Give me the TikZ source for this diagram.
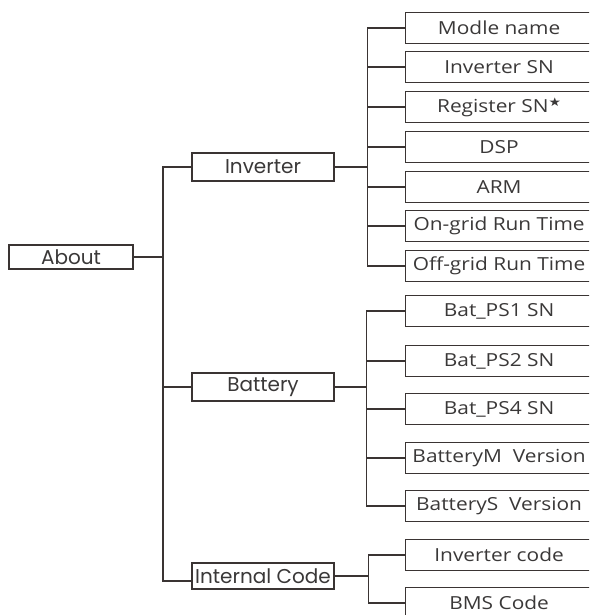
\documentclass[tikz,border=0pt]{standalone}
\usepackage{fontspec}
\setmainfont{Open Sans}
\newfontfamily\leftfont{Poppins}
\newfontfamily\symfont{DejaVu Sans}
\definecolor{linec}{HTML}{3A3433}
\definecolor{textc}{HTML}{3A3838}
\newcommand{\wtxt}[1]{\hspace*{-8pt}\scalebox{1.16}[1]{#1}}
\begin{document}
\begin{tikzpicture}[x=1pt,y=1pt,
  lbox/.style={draw=linec, line width=1.2pt, minimum height=#1, inner sep=0pt, text=textc,
    font=\leftfont\fontsize{20}{20}\selectfont},
  rbox/.style={draw=linec, line width=1.2pt, minimum width=195, minimum height=31, inner sep=0pt,
    text=textc, font=\fontsize{18}{18}\selectfont, anchor=west},
  conn/.style={draw=linec, line width=1.1pt}]
\useasboundingbox (0,0) rectangle (589,-615);
\clip (0,0) rectangle (589,-615);
% level 0
\node[lbox=24, minimum width=124] (about) at (71,-257) {About};
% level 1
\node[lbox=28, minimum width=142] (inv) at (263,-167) {Inverter};
\node[lbox=28, minimum width=142] (bat) at (263,-387) {Battery};
\node[lbox=26, minimum width=142] (ic) at (263,-576) {Internal Code};
% inverter children
\node[rbox] (m1) at (405,-28) {\wtxt{Modle name}};
\node[rbox] (m2) at (405,-67) {\wtxt{Inverter SN}};
\node[rbox] (m3) at (405,-107) {\wtxt{Register SN\raisebox{6pt}{\symfont\fontsize{12}{12}\selectfont ★}}};
\node[rbox] (m4) at (405,-147) {\wtxt{DSP}};
\node[rbox] (m5) at (405,-187) {\wtxt{ARM}};
\node[rbox] (m6) at (405,-226) {\wtxt{On-grid Run Time}};
\node[rbox] (m7) at (405,-266) {\wtxt{Off-grid Run Time}};
% battery children
\node[rbox] (b1) at (405,-311) {\wtxt{Bat\_PS1 SN}};
\node[rbox] (b2) at (405,-361) {\wtxt{Bat\_PS2 SN}};
\node[rbox] (b3) at (405,-409) {\wtxt{Bat\_PS4 SN}};
\node[rbox] (b4) at (405,-458) {\wtxt{BatteryM\ \ Version}};
\node[rbox] (b5) at (405,-506) {\wtxt{BatteryS\ \ Version}};
% internal code children
\node[rbox] (c1) at (405,-555) {\wtxt{Inverter code}};
\node[rbox] (c2) at (405,-603) {\wtxt{BMS Code}};
% connectors level 0 -> 1
\coordinate (t0) at (163,-257);
\draw[conn] (about.east) -- (t0);
\draw[conn] (t0) |- (inv.west);
\draw[conn] (t0) |- (bat.west);
\draw[conn] (t0) |- ([yshift=-5pt]ic.west);
% inverter
\foreach \n in {m1,m2,m3,m4,m5,m6,m7}
  \draw[conn] (inv.east) -- ++(33,0) |- (\n.west);
% battery
\foreach \n in {b1,b2,b3,b4,b5}
  \draw[conn] (bat.east) -- ++(32,0) |- (\n.west);
% internal
\foreach \n in {c1,c2}
  \draw[conn] (ic.east) -- ++(34,0) |- (\n.west);
\end{tikzpicture}
\end{document}
